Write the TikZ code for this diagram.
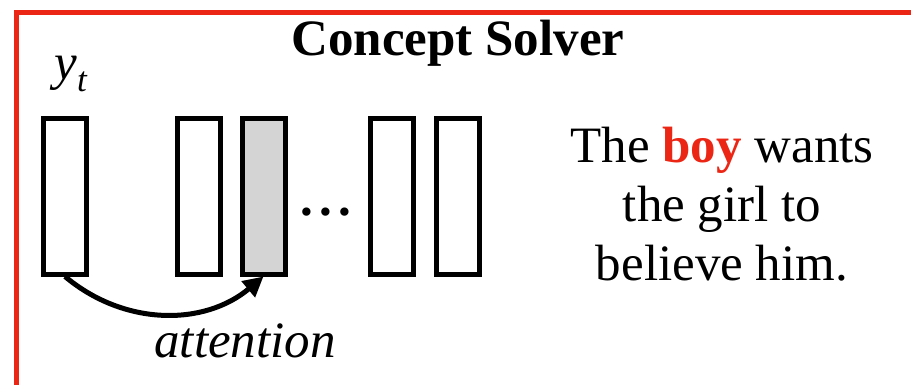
\documentclass[tikz,border=0pt]{standalone}
\usepackage{fontspec}
\newfontfamily\timesfont{Liberation Serif}
\usepackage{xcolor}
\usetikzlibrary{arrows.meta}
\definecolor{frame red}{RGB}{236,38,20}

\begin{document}
\begin{tikzpicture}[
  x=1pt,y=1pt,
  every node/.style={inner sep=0pt,font=\fontsize{51}{59}\selectfont},
  cell/.style={draw,line width=5pt,minimum width=43pt,minimum height=155pt},
  every path/.style={line width=5pt},
  >={Triangle[length=20pt,width=20pt]}
]
\useasboundingbox (0,0) rectangle (911,-385);
\draw[frame red] (16,-385) -- (16,-13) -- (911,-13);
\node[anchor=base] (title) at (458,-56) {\timesfont\bfseries Concept Solver};
\node[anchor=base west] (yt) at (52,-80) {\timesfont\itshape y\raisebox{-12pt}{\fontsize{35}{35}\selectfont t}};
\node[cell] (h1) at (65,-196.5) {};
\node[cell] (h2) at (198.5,-196.5) {};
\node[cell,fill=black!17] (h3) at (263.5,-196.5) {};
\node[anchor=base] (dots) at (326,-215) {\timesfont\bfseries .\hspace{6pt}.\hspace{6pt}.};
\node[cell] (h4) at (392,-196.5) {};
\node[cell] (h5) at (458,-196.5) {};
\draw[->] (h1.south) to[out=-40,in=-140] (h3.south);
\node[anchor=base] (attn) at (245,-357) {\timesfont\itshape attention};
\node[align=center] (sentence) at (722,-204)
  {\timesfont The \textcolor{frame red}{\bfseries boy} wants\\\timesfont the girl to\\\timesfont believe him.};
\end{tikzpicture}
\end{document}
